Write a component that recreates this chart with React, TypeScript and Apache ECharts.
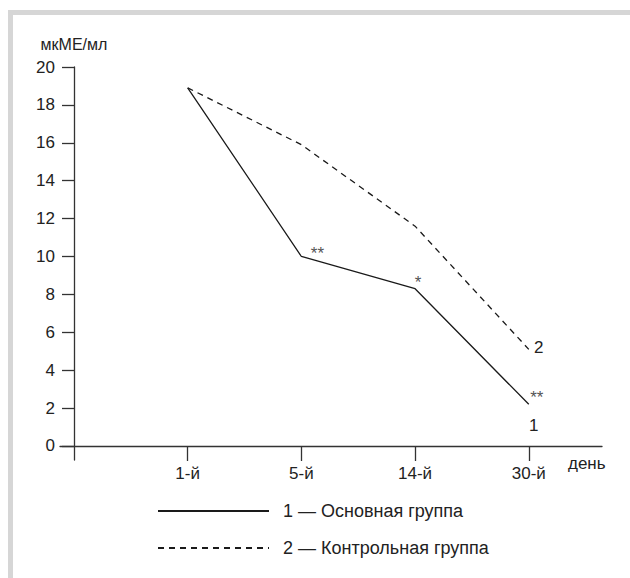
import React, { useEffect, useRef } from "react";
import * as echarts from "echarts";

const categories = ["1-й", "5-й", "14-й", "30-й"];
const mainGroup = [18.9, 10.0, 8.3, 2.2];
const controlGroup = [18.9, 15.9, 11.6, 5.1];
const yTicks = [0, 2, 4, 6, 8, 10, 12, 14, 16, 18, 20];
const seriesNames = ["1 — Основная группа", "2 — Контрольная группа"];
const mainMarks = ["", "**", "*", "**"];

const FONT = "'Liberation Sans', Arial, sans-serif";
const INK = "#222";

export default function App() {
  const ref = useRef<HTMLDivElement>(null);
  useEffect(() => {
    if (!ref.current) return;
    const chart = echarts.init(ref.current, null, { renderer: "svg" });
    const xs = categories.map((_, i) => i + 1);
    const option: any = {
      animation: false,
      textStyle: { fontFamily: FONT, color: INK },
      grid: { left: 60, right: 28, top: 67, bottom: 118 },
      xAxis: {
        type: "value",
        min: -0.123,
        max: 4.644,
        axisLine: { onZero: true, lineStyle: { color: "#333", width: 1.3 } },
        axisTick: { show: true, length: 15, customValues: xs, lineStyle: { color: "#333", width: 1.3 } },
        axisLabel: {
          customValues: xs,
          formatter: (v: number) => categories[Math.round(v) - 1] ?? "",
          margin: 5,
          fontSize: 17,
          color: INK,
          fontFamily: FONT,
        },
        splitLine: { show: false },
      },
      yAxis: {
        type: "value",
        min: -0.74,
        max: 20,
        name: "мкМЕ/мл",
        nameLocation: "end",
        nameGap: 15,
        nameTextStyle: { fontSize: 16, color: INK, fontFamily: FONT },
        axisLine: { onZero: true, lineStyle: { color: "#333", width: 1.3 } },
        axisTick: { show: true, length: 12, customValues: yTicks, lineStyle: { color: "#333", width: 1.3 } },
        axisLabel: {
          customValues: yTicks,
          margin: 5,
          fontSize: 17,
          color: INK,
          fontFamily: FONT,
        },
        splitLine: { show: false },
      },
      legend: {
        orient: "vertical",
        left: 157,
        top: 502,
        padding: 0,
        itemWidth: 111,
        itemHeight: 18,
        itemGap: 19,
        itemStyle: { opacity: 0 },
        textStyle: { fontSize: 18, color: INK, fontFamily: FONT, padding: [0, 0, 0, 9] },
        data: seriesNames,
      },
      series: [
        {
          name: seriesNames[0],
          type: "line",
          symbol: "none",
          lineStyle: { color: "#1a1a1a", width: 1.3, type: "solid" },
          itemStyle: { color: "#1a1a1a" },
          data: xs.map((x, i) => [x, mainGroup[i]]),
        },
        {
          name: seriesNames[1],
          type: "line",
          symbol: "none",
          lineStyle: { color: "#1a1a1a", width: 1.3, type: [6, 5] },
          itemStyle: { color: "#1a1a1a" },
          data: xs.map((x, i) => [x, controlGroup[i]]),
        },
      ],
    };
    chart.setOption(option);

    const px = (i: number, v: number) => chart.convertToPixel({ gridIndex: 0 }, [i + 1, v]) as number[];
    const markOffsets: number[][] = [[0, 0], [16, -3], [3, -6], [8, -7]];
    const graphics: any[] = [
      { type: "rect", shape: { x: 8, y: 10, width: 622, height: 5 }, style: { fill: "#d6d6d6" }, silent: true },
      { type: "rect", shape: { x: 8, y: 10, width: 5, height: 568 }, style: { fill: "#d6d6d6" }, silent: true },
      {
        type: "text",
        x: 568,
        y: 463,
        style: { text: "день", font: `17px ${FONT}`, fill: INK, textVerticalAlign: "middle", textAlign: "left" },
      },
    ];
    mainMarks.forEach((m, i) => {
      if (!m) return;
      const p = px(i, mainGroup[i]);
      graphics.push({
        type: "text",
        x: p[0] + markOffsets[i][0],
        y: p[1] + markOffsets[i][1],
        style: { text: m, font: `17px ${FONT}`, fill: "#555", textAlign: "center", textVerticalAlign: "middle" },
      });
    });
    const last = categories.length - 1;
    const pm = px(last, mainGroup[last]);
    const pc = px(last, controlGroup[last]);
    graphics.push({
      type: "text",
      x: pm[0] + 5,
      y: pm[1] + 21,
      style: { text: "1", font: `17px ${FONT}`, fill: INK, textAlign: "center", textVerticalAlign: "middle" },
    });
    graphics.push({
      type: "text",
      x: pc[0] + 10,
      y: pc[1] - 2,
      style: { text: "2", font: `17px ${FONT}`, fill: INK, textAlign: "center", textVerticalAlign: "middle" },
    });
    chart.setOption({ graphic: graphics });

    return () => chart.dispose();
  }, []);
  return (
    <div
      ref={ref}
      style={{ position: "absolute", left: 0, top: 0, width: 630, height: 578, background: "#fff" }}
    />
  );
}
